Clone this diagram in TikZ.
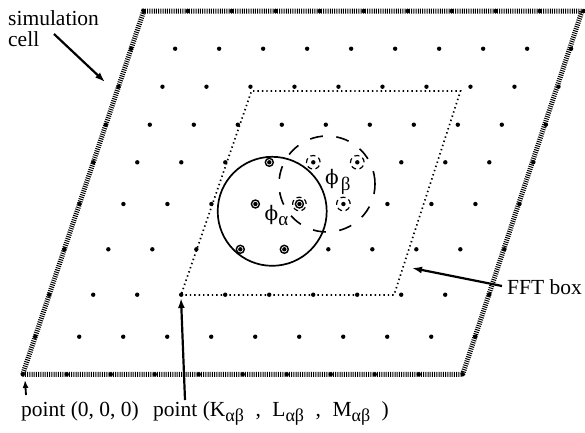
\documentclass[tikz,border=0pt]{standalone}
\usepackage{fontspec}
\setmainfont{Liberation Serif}
\newfontfamily\phifont{DejaVu Serif}
\usetikzlibrary{arrows.meta}
\newcommand\subAB{\raisebox{-5pt}{\fontsize{18}{18}\selectfont αβ}}
\newcommand\gapA{\hspace{11.5pt}}
\begin{document}
\begin{tikzpicture}[x=1pt,y=-1pt,
 lbl/.style={inner sep=0pt, font=\fontsize{21.5}{24}\selectfont, anchor=base west},
 hatch/.style={line width=5pt, dash pattern=on 1pt off 1.2pt},
 fftline/.style={line width=1.7pt, dash pattern=on 1.4pt off 3pt},
 arr/.style={line width=2.2pt, -{Latex[length=10pt,width=7pt]}},
 ring/.style={line width=1.4pt},
 dring/.style={line width=1.2pt, dash pattern=on 5pt off 3.5pt},
 dot/.style={fill=black},
]
\useasboundingbox (0,0) rectangle (585,432);
% simulation cell
\coordinate (c1) at (22.7,374.3);
\coordinate (c2) at (462.7,374.3);
\coordinate (c3) at (582,11);
\coordinate (c4) at (143.7,11);
\draw[hatch] (c1) -- (c2) -- (c3) -- (c4) -- cycle;
% FFT box
\coordinate (f1) at (181,295);
\coordinate (f2) at (394,295);
\coordinate (f3) at (460.5,91);
\coordinate (f4) at (251.5,91);
\draw[fftline] (f1) -- (f2) -- (f3) -- (f4) -- cycle;
% lattice points
\foreach \yy in {374.3,336.7,294.7,249.3,204,162.3,124.7,86.7,48.7,11}{
  \pgfmathsetmacro\xl{22.7+0.333*(374.3-\yy)}
  \foreach \n in {0,...,10}{
    \fill[dot] (\xl+44*\n,\yy) circle (2.2pt);
  }
}
% spheres
\draw[line width=1.7pt] (272.2,211.3) circle (54.5pt);
\draw[line width=1.6pt, dash pattern=on 13pt off 13.5pt] (327,184) circle (48pt);
\foreach \p in {(269.3,162.3),(255.4,204),(299.4,204),(240.3,249.3),(284.3,249.3)}
  \draw[ring] \p circle (4pt);
\foreach \p in {(313.3,162.3),(357.3,162.3),(343.4,204),(299.4,204)}
  \draw[dring] \p circle (6.8pt);
% labels
\node[lbl] (phia) at (264.5,220) {\phifont\fontsize{20}{20}\selectfont ϕ\raisebox{-5.5pt}{\rmfamily\fontsize{19}{19}\selectfont α}};
\node[lbl] (phib) at (325,184) {\phifont\fontsize{20}{20}\selectfont ϕ\kern2pt\raisebox{-6pt}{\rmfamily\fontsize{19}{19}\selectfont β}};
\node[lbl] (simA) at (8,25) {simulation};
\node[lbl] (simB) at (8,46) {cell};
\node[lbl] (fft) at (507,294) {FFT box};
\node[lbl] (p0) at (21,416) {point (0, 0, 0)};
\node[lbl] (pk) at (153,416) {point (K\subAB\gapA,\gapA L\subAB\gapA,\gapA M\subAB\gapA)};
% arrows
\coordinate (simtail) at (54,34);
\coordinate (simtip) at (105,82);
\draw[arr] (simtail) -- (simtip);
\coordinate (ffttail) at (502,286);
\coordinate (ffttip) at (412,268);
\draw[arr] (ffttail) -- (ffttip);
\coordinate (p0tail) at (26,395);
\coordinate (p0tip) at (25,380);
\draw[line width=1.8pt, -{Latex[length=8pt,width=6pt]}] (p0tail) -- (p0tip);
\coordinate (pktail) at (185,400);
\coordinate (pktip) at (181,298);
\draw[arr] (pktail) -- (pktip);
\end{tikzpicture}
\end{document}
